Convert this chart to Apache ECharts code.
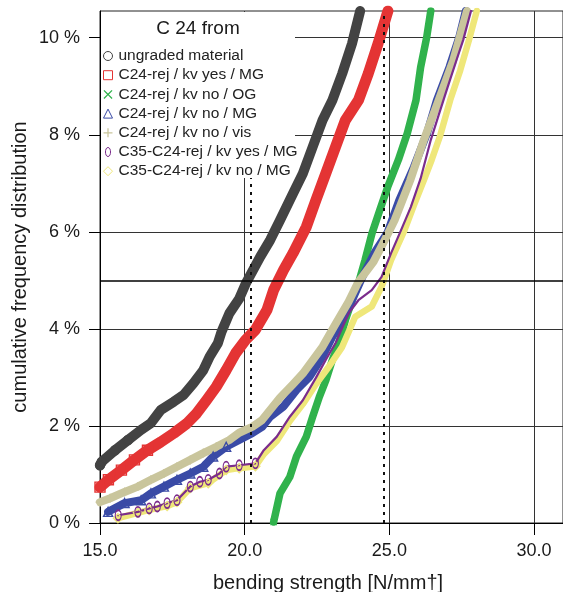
<!DOCTYPE html>
<html>
<head>
<meta charset="utf-8">
<script src="https://cdn.jsdelivr.net/npm/echarts@6/dist/echarts.min.js"></script>
<style>
  html, body { margin: 0; padding: 0; background: #fff; }
  #chart { width: 563px; height: 592px; }
</style>
</head>
<body>
<div id="chart"></div>
<script>
// Axis ticks
const xTicks = [15, 20, 25, 30];
const yTicks = [0, 2, 4, 6, 8, 10];

// Reference lines: 5 % quantile level and the two 5 % values (dotted)
const quantileLevel = 5;
const quantileValues = [20.2, 24.8];

const seriesNames = [
  'ungraded material',
  'C24-rej / kv yes / MG',
  'C24-rej / kv no / OG',
  'C24-rej / kv no / MG',
  'C24-rej / kv no / vis',
  'C35-C24-rej / kv yes / MG',
  'C35-C24-rej / kv no / MG'
];

// [bending strength, cumulative frequency %]
const ungraded = [[15.0,1.19],[15.06,1.26],[15.52,1.50],[15.97,1.71],[16.42,1.92],[16.76,2.06],[17.10,2.33],[17.55,2.50],[17.89,2.64],[18.23,2.88],[18.57,3.15],[18.79,3.43],[19.07,3.70],[19.20,3.94],[19.47,4.32],[19.81,4.62],[20.05,4.95],[20.54,5.49],[20.88,5.83],[21.22,6.24],[21.67,6.79],[22.01,7.20],[22.35,7.75],[22.69,8.30],[23.03,8.71],[23.37,9.26],[23.71,9.88],[23.99,10.55]];
const rejKvYesMG = [[15.0,0.74],[15.29,0.89],[15.74,1.09],[16.19,1.30],[16.64,1.50],[17.10,1.67],[17.55,1.85],[18.00,2.05],[18.34,2.26],[18.68,2.53],[19.02,2.81],[19.36,3.15],[19.69,3.50],[20.03,3.77],[20.37,3.98],[20.77,4.39],[21.00,4.80],[21.34,5.21],[21.67,5.56],[22.13,6.10],[22.46,6.65],[22.80,7.20],[23.14,7.75],[23.48,8.30],[23.93,8.71],[24.27,9.26],[24.61,9.88],[24.95,10.55]];
const rejKvNoOG = [[21.0,0.02],[21.22,0.61],[21.56,0.95],[21.79,1.37],[22.13,1.78],[22.35,2.19],[22.58,2.60],[22.81,2.95],[23.03,3.36],[23.25,3.70],[23.48,4.18],[23.71,4.59],[23.93,4.94],[24.16,5.42],[24.40,5.97],[24.67,6.45],[24.94,6.92],[25.31,7.48],[25.62,8.03],[25.92,8.71],[26.08,9.39],[26.29,10.01],[26.43,10.55]];
const rejKvNoMG = [[15.28,0.23],[15.85,0.41],[16.42,0.47],[16.76,0.61],[17.21,0.75],[17.66,0.89],[18.12,1.02],[18.57,1.16],[18.91,1.37],[19.36,1.57],[19.81,1.71],[20.26,1.85],[20.60,1.98],[20.88,2.19],[21.34,2.40],[21.79,2.74],[22.24,3.01],[22.69,3.43],[23.03,3.84],[23.37,4.18],[23.71,4.59],[24.05,5.05],[24.50,5.58],[24.94,5.99],[25.34,6.65],[25.85,7.34],[26.30,8.03],[26.64,8.71],[27.08,9.40],[27.42,10.02],[27.64,10.55]];
const rejKvNoVis = [[15.0,0.43],[15.35,0.51],[15.85,0.64],[16.31,0.75],[16.76,0.89],[17.21,1.02],[17.66,1.16],[18.12,1.30],[18.57,1.44],[19.02,1.57],[19.47,1.71],[19.81,1.86],[20.26,1.98],[20.60,2.12],[21.22,2.58],[21.67,2.86],[22.01,3.08],[22.69,3.63],[23.14,4.10],[23.59,4.56],[23.93,4.97],[24.45,5.38],[24.84,5.83],[25.18,6.24],[25.72,7.06],[26.19,7.89],[26.70,8.71],[27.21,9.54],[27.68,10.55]];
const c35KvYesMG = [[15.63,0.16],[16.31,0.23],[16.70,0.30],[16.98,0.34],[17.32,0.41],[17.66,0.47],[18.12,0.75],[18.45,0.85],[18.74,0.89],[19.13,1.02],[19.36,1.16],[19.81,1.19],[20.37,1.23],[20.66,1.50],[21.11,1.78],[21.56,2.19],[22.01,2.53],[22.46,2.99],[22.80,3.36],[23.14,3.71],[23.59,4.32],[23.93,4.59],[24.39,4.80],[24.73,5.07],[25.06,5.56],[25.40,6.03],[25.74,6.51],[26.08,7.10],[26.43,7.89],[26.70,8.40],[26.98,8.92],[27.32,9.54],[27.55,9.95],[27.82,10.55]];
const c35KvNoMG = [[15.62,0.10],[16.31,0.21],[16.70,0.27],[17.32,0.35],[17.66,0.43],[18.12,0.72],[18.74,0.82],[19.36,1.09],[19.81,1.13],[20.37,1.17],[20.66,1.42],[21.11,1.69],[21.56,2.10],[22.01,2.45],[22.46,2.86],[22.92,3.23],[23.37,3.63],[23.82,4.25],[24.39,4.46],[24.73,4.87],[25.06,5.42],[25.52,6.03],[25.85,6.55],[26.19,7.06],[26.46,7.48],[26.76,7.99],[27.10,8.71],[27.45,9.33],[27.75,9.95],[28.02,10.55]];

const FONT = '"Liberation Sans", Arial, Helvetica, sans-serif';
const ICON_CROSS = 'path://M1,0 L5,4 L9,0 L10,1 L6,5 L10,9 L9,10 L5,6 L1,10 L0,9 L4,5 L0,1 Z';
const ICON_PLUS = 'path://M4.3,0 H5.7 V4.3 H10 V5.7 H5.7 V10 H4.3 V5.7 H0 V4.3 H4.3 Z';
const ICON_OVAL = 'path://M5,0 C11,0 11,16 5,16 C-1,16 -1,0 5,0 Z';

// Drawing styles; "marked" = number of leading (sparse) points drawn with their own marker
const looks = [
  { data: ungraded,    color: '#434343', width: 10, symbol: 'circle',   size: 9,      hollow: true,  marked: 4,  order: 0 },
  { data: rejKvYesMG,  color: '#e43434', width: 11, symbol: 'rect',     size: 10,     hollow: true,  marked: 5,  order: 1 },
  { data: rejKvNoOG,   color: '#30b24c', width: 7.5,symbol: ICON_CROSS, size: 7,      hollow: false, marked: 1,  order: 2 },
  { data: rejKvNoMG,   color: '#3a4ba6', width: 8,  symbol: 'triangle', size: 9,      hollow: true,  marked: 10, order: 3 },
  { data: rejKvNoVis,  color: '#c9c59c', width: 8,  symbol: ICON_PLUS,  size: 9,      hollow: false, marked: 10, order: 4 },
  { data: c35KvYesMG,  color: '#7b2c8c', width: 2.2,symbol: ICON_OVAL,  size: [6, 10],hollow: true,  marked: 13, order: 6 },
  { data: c35KvNoMG,   color: '#efe77a', width: 6.5,symbol: 'diamond',  size: 9,      hollow: true,  marked: 10, order: 5 }
];

function markerStyle(look, bw) {
  return look.hollow
    ? { color: 'rgba(255,255,255,0)', borderColor: look.color, borderWidth: bw }
    : { color: look.color, borderWidth: 0 };
}

function buildData(look) {
  return look.data.map((p, i) => i < look.marked
    ? { value: p, symbol: look.symbol, symbolSize: look.size, itemStyle: markerStyle(look, 1.4) }
    : { value: p });
}

const series = looks.map((look, i) => ({
  name: seriesNames[i],
  type: 'line',
  data: buildData(look),
  symbol: 'none',
  showSymbol: true,
  z: 2,
  itemStyle: { color: look.color },
  lineStyle: { color: look.color, width: look.width, cap: 'round', join: 'round' },
  animation: false,
  silent: true,
  order: look.order
})).sort((a, b) => a.order - b.order).map(s => { delete s.order; return s; });

// Reference lines attached to the first drawn series
series[0].markLine = {
  silent: true,
  symbol: 'none',
  z: 3,
  animation: false,
  label: { show: false },
  data: [
    { yAxis: quantileLevel, lineStyle: { type: 'solid', width: 1.6, color: '#000' } },
    ...quantileValues.map(v => ({ xAxis: v, lineStyle: { type: [3, 5], width: 2, color: '#111' } }))
  ]
};

const legendData = seriesNames.map((name, i) => ({
  name,
  icon: looks[i].symbol,
  itemStyle: markerStyle(looks[i], 1)
}));

const chart = echarts.init(document.getElementById('chart'), null, { renderer: 'canvas' });
chart.setOption({
  backgroundColor: '#fff',
  animation: false,
  grid: {
    left: 100, top: 11, width: 473, height: 512,
    show: true, borderColor: '#222', borderWidth: 1, backgroundColor: 'transparent'
  },
  xAxis: {
    type: 'value', min: 15, max: 31,
    axisLine: { show: true, onZero: false, lineStyle: { color: '#000', width: 1 } },
    axisTick: { show: true, length: 12, customValues: xTicks, lineStyle: { color: '#000', width: 1 } },
    axisLabel: { customValues: xTicks, formatter: v => v.toFixed(1), fontSize: 18, color: '#1a1a1a', margin: 19, fontFamily: FONT },
    splitLine: { show: true, lineStyle: { color: '#333', width: 1 } }
  },
  yAxis: {
    type: 'value', min: 0, max: 10.55,
    axisLine: { show: true, onZero: false, lineStyle: { color: '#000', width: 1 } },
    axisTick: { show: true, length: 11, customValues: yTicks, lineStyle: { color: '#000', width: 1 } },
    axisLabel: { customValues: yTicks, formatter: v => v + ' %', fontSize: 18, color: '#1a1a1a', margin: 20, fontFamily: FONT },
    splitLine: { show: true, lineStyle: { color: '#333', width: 1 } }
  },
  legend: {
    orient: 'vertical', left: 103, top: 48, padding: 0,
    itemGap: 3.2, itemWidth: 9, itemHeight: 9,
    selectedMode: false,
    textStyle: { fontSize: 15.5, lineHeight: 15, color: '#222', fontFamily: FONT, padding: [0, 0, 0, 1] },
    data: legendData
  },
  graphic: [
    { type: 'rect', z: 3.6, shape: { x: 101, y: 12, width: 194, height: 166 }, style: { fill: '#fff' } },
    { type: 'text', z: 5, x: 198, y: 29,
      style: { text: 'C 24 from', font: '19px ' + FONT, fill: '#1a1a1a', align: 'center', verticalAlign: 'middle', textAlign: 'center', textVerticalAlign: 'middle' } },
    { type: 'text', z: 5, x: 328, y: 583,
      style: { text: 'bending strength [N/mm\u2020]', font: '20px ' + FONT, fill: '#1a1a1a', align: 'center', verticalAlign: 'middle', textAlign: 'center', textVerticalAlign: 'middle' } },
    { type: 'text', z: 5, x: 20, y: 267, rotation: Math.PI / 2,
      style: { text: 'cumulative frequency distribution', font: '20px ' + FONT, fill: '#1a1a1a', align: 'center', verticalAlign: 'middle', textAlign: 'center', textVerticalAlign: 'middle' } }
  ],
  series
});
</script>
</body>
</html>
